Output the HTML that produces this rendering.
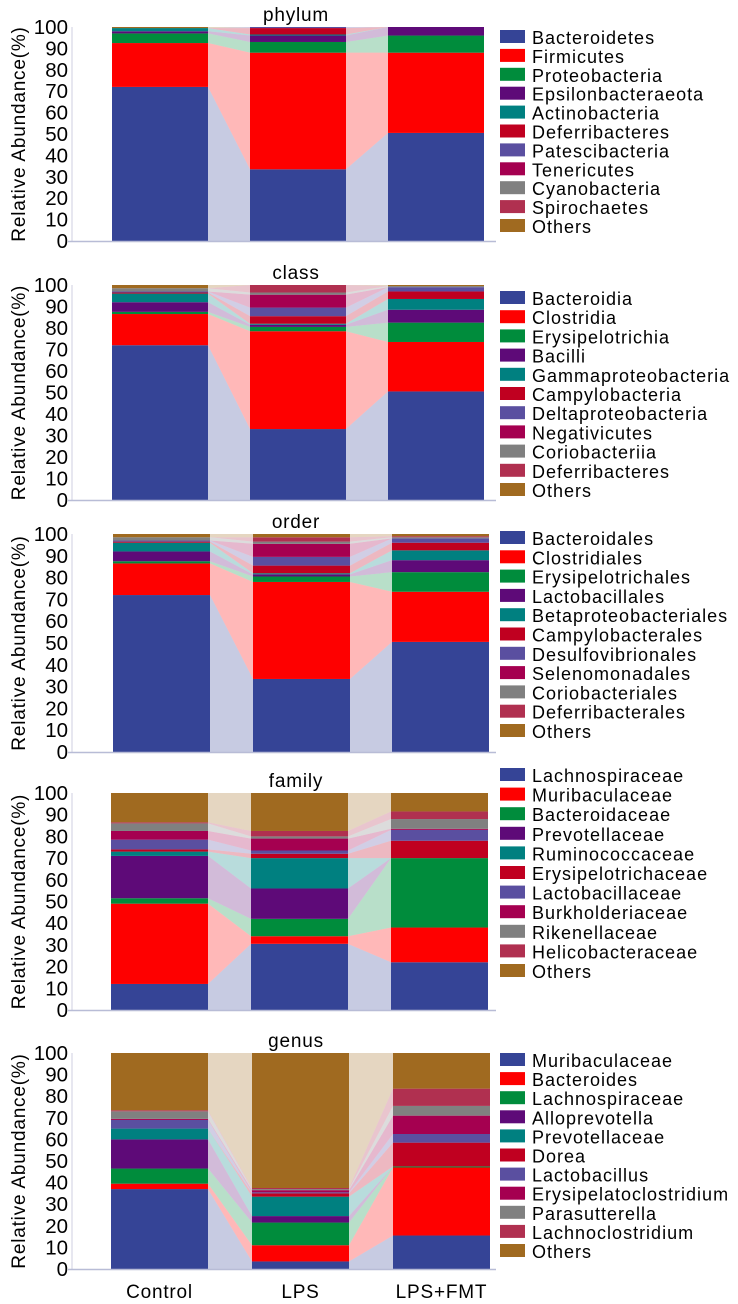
<!DOCTYPE html>
<html><head><meta charset="utf-8"><style>
body{margin:0;background:#fff;}
svg{display:block;font-family:"Liberation Sans",Arial,sans-serif;}
</style></head><body>
<svg id="chart" width="738" height="1304" viewBox="0 0 738 1304"></svg>
<script>
const groups = ["Control","LPS","LPS+FMT"];
const colors = ["#354496","#fe0000","#008c3c","#5e0a78","#008080","#c00020","#5a4fa0","#a50050","#808080","#b03050","#a06a20"];
const yTicks = [0,10,20,30,40,50,60,70,80,90,100];

const phylumNames = ["Bacteroidetes","Firmicutes","Proteobacteria","Epsilonbacteraeota","Actinobacteria","Deferribacteres","Patescibacteria","Tenericutes","Cyanobacteria","Spirochaetes","Others"];
const phylumControl = [72,20.5,4.5,1,1.5,0,0,0,0,0,0.5];
const phylumLPS = [33.5,54.5,5,3,0.5,3,0.5,0,0,0,0];
const phylumFMT = [50.5,37.5,8,4,0,0,0,0,0,0,0];

const classNames = ["Bacteroidia","Clostridia","Erysipelotrichia","Bacilli","Gammaproteobacteria","Campylobacteria","Deltaproteobacteria","Negativicutes","Coriobacteriia","Deferribacteres","Others"];
const classControl = [72,14.5,1,4.5,4,0.5,0.5,0,1.5,0,1.5];
const classLPS = [33,45.5,2,1,0.5,3.5,4,6,1,3.5,0];
const classFMT = [50.5,23,9,6,5,3.5,2,0,0.5,0,0.5];

const orderNames = ["Bacteroidales","Clostridiales","Erysipelotrichales","Lactobacillales","Betaproteobacteriales","Campylobacterales","Desulfovibrionales","Selenomonadales","Coriobacteriales","Deferribacterales","Others"];
const orderControl = [72,14.5,1,4.5,4,0.5,0.5,0,1.5,0,1.5];
const orderLPS = [33.5,44.5,2.5,1,0.5,3.5,4,6,1,2,1.5];
const orderFMT = [50.5,23,9,5.5,4.5,3.5,2,0,0.5,0.5,1];

const familyNames = ["Lachnospiraceae","Muribaculaceae","Bacteroidaceae","Prevotellaceae","Ruminococcaceae","Erysipelotrichaceae","Lactobacillaceae","Burkholderiaceae","Rikenellaceae","Helicobacteraceae","Others"];
const familyControl = [12,37,2.5,19.5,2,1,4.5,4,3.5,0.5,13.5];
const familyLPS = [30.5,3.5,8,14,14,2,1.5,5.5,1,2.5,17.5];
const familyFMT = [22,16,32,0,0,8,5,0.5,4.5,3.5,8.5];

const genusNames = ["Muribaculaceae","Bacteroides","Lachnospiraceae","Alloprevotella","Prevotellaceae","Dorea","Lactobacillus","Erysipelatoclostridium","Parasutterella","Lachnoclostridium","Others"];
const genusControl = [37,2.5,7,13.5,5,0,4,0.5,3.5,0.5,26.5];
const genusLPS = [3.5,7.5,10.5,3,9,1.5,0.5,1,0.5,0.5,62.5];
const genusFMT = [15.5,31.5,0.5,0,0,11,4,8.5,4.5,8,16.5];

const panels = [
 {title:"phylum",names:phylumNames,vals:[phylumControl,phylumLPS,phylumFMT],top:27,bot:241,bx:[112,250,388],bw:96,legTop:30,step:18.9},
 {title:"class",names:classNames,vals:[classControl,classLPS,classFMT],top:285,bot:500,bx:[112,250,388],bw:96,legTop:291,step:19.2},
 {title:"order",names:orderNames,vals:[orderControl,orderLPS,orderFMT],top:534,bot:752,bx:[113,253,392],bw:97,legTop:531,step:19.3},
 {title:"family",names:familyNames,vals:[familyControl,familyLPS,familyFMT],top:793,bot:1010,bx:[111,251,391],bw:97,legTop:768,step:19.6},
 {title:"genus",names:genusNames,vals:[genusControl,genusLPS,genusFMT],top:1053,bot:1269,bx:[111,252,393],bw:97,legTop:1053,step:19.1}
];

const NS="http://www.w3.org/2000/svg";
const svg=document.getElementById('chart');
function mk(tag,attrs,parent){const e=document.createElementNS(NS,tag);for(const k in attrs)e.setAttribute(k,attrs[k]);(parent||svg).appendChild(e);return e;}

panels.forEach((p,pi)=>{
  const g=mk('g',{});
  
  
  const y=v=>p.bot-(p.bot-p.top)*v/100;
  const cum=p.vals.map(arr=>{let s=0;return arr.map(v=>{const a=s;s+=v;return [a,s];});});
  for(let b=0;b<2;b++){
    for(let k=0;k<p.names.length;k++){
      const a=cum[b][k],c=cum[b+1][k];
      if(a[1]-a[0]<=0&&c[1]-c[0]<=0)continue;
      const x1=p.bx[b]+p.bw,x2=p.bx[b+1];
      const poly=mk('polygon',{points:`${x1},${y(a[0])} ${x2},${y(c[0])} ${x2},${y(c[1])} ${x1},${y(a[1])}`,fill:colors[k],'fill-opacity':0.28},g);
      
      
    }
  }
  for(let b=0;b<3;b++){
    for(let k=0;k<p.names.length;k++){
      const s=cum[b][k];if(s[1]-s[0]<=0)continue;
      const r=mk('rect',{x:p.bx[b],y:y(s[1]),width:p.bw,height:y(s[0])-y(s[1]),fill:colors[k]},g);
      
      
    }
  }
  mk('line',{x1:72,y1:p.top,x2:72,y2:p.bot,stroke:'#cfcfe0','stroke-width':1},g);
  mk('line',{x1:68,y1:p.bot+0.5,x2:496,y2:p.bot+0.5,stroke:'#b8bcd6','stroke-width':1.5},g);
  yTicks.forEach(t=>{
    const tx=mk('text',{x:68,y:y(t)+7,'text-anchor':'end','font-size':20.5,fill:'#000'},g);
    tx.textContent=t;
    
    
  });
  const yc=(p.top+p.bot)/2;
  const yt=mk('text',{x:0,y:0,transform:`translate(25,${yc}) rotate(-90)`,'text-anchor':'middle','font-size':19,'letter-spacing':0.8,fill:'#000'},g);
  yt.textContent="Relative Abundance(%)";
  
  
  const ti=mk('text',{x:296,y:p.top-6,'text-anchor':'middle','font-size':19,'letter-spacing':0.8,fill:'#000'},g);
  ti.textContent=p.title;
  
  
  p.names.forEach((n,k)=>{
    const ly=p.legTop+k*p.step;
    const sw=mk('rect',{x:500,y:ly,width:25,height:13,fill:colors[k]},g);
    
    
    const lt=mk('text',{x:532,y:ly+14,'font-size':18,'letter-spacing':1,fill:'#000'},g);
    lt.textContent=n;
    
    
  });
});
const last=panels[4];
groups.forEach((gname,b)=>{
  const t=mk('text',{x:last.bx[b]+last.bw/2,y:1298,'text-anchor':'middle','font-size':19,'letter-spacing':0.8,fill:'#000'});
  t.textContent=gname;
  
  
});
</script>
</body></html>
